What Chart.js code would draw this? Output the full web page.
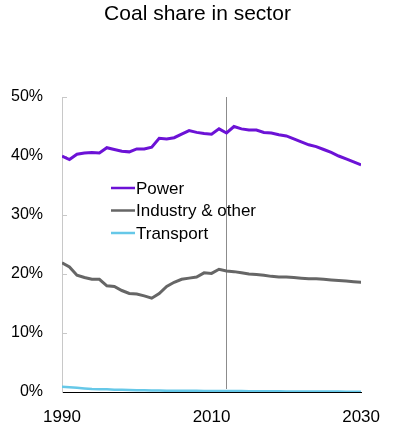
<!DOCTYPE html>
<html>
<head>
<meta charset="utf-8">
<script src="https://cdn.jsdelivr.net/npm/chart.js@4/dist/chart.umd.min.js"></script>
<style>
html,body{margin:0;padding:0;background:#fff;}
#c{display:block;}
</style>
</head>
<body>
<canvas id="c" width="395" height="434"></canvas>
<script>
const years = [];
for (let y = 1990; y <= 2030; y++) years.push(y);
const power = [40.0,39.4,40.3,40.5,40.6,40.5,41.4,41.1,40.8,40.7,41.2,41.2,
  41.5,43.0,42.9,43.1,43.7,44.3,44.0,43.8,43.7,44.6,43.9,
  45.0,44.6,44.4,44.4,44.0,43.9,43.6,43.4,42.9,42.4,41.9,41.6,41.1,40.6,40.0,39.5,39.0,38.5];
const industry = [21.9,21.2,19.8,19.4,19.1,19.1,18.0,17.9,17.2,16.7,16.6,16.3,
  15.9,16.7,17.9,18.6,19.1,19.3,19.5,20.2,20.1,20.8,20.5,
  20.4,20.2,20.0,19.9,19.8,19.6,19.5,19.5,19.4,19.3,19.2,19.2,19.1,19.0,18.9,18.8,18.7,18.6];
const transport = [0.9,0.8,0.7,0.6,0.5,0.45,0.45,0.4,0.4,0.35,0.3,0.3,
  0.25,0.25,0.2,0.2,0.2,0.2,0.2,0.15,0.15,0.15,0.15,
  0.15,0.15,0.14,0.13,0.12,0.12,0.11,0.1,0.1,0.09,0.09,0.08,0.08,0.07,0.07,0.06,0.06,0.05];
const seriesLabels = ['Power', 'Industry & other', 'Transport'];
const titleText = 'Coal share in sector';
const xTicks = [1990, 2010, 2030];
const yTicks = [0, 10, 20, 30, 40, 50];
const markerYear = 2012;

const FONT = '"Liberation Sans", Arial, Helvetica, sans-serif';
const toXY = arr => arr.map((v, i) => ({x: years[i], y: v}));

const overlay = {
  id: 'overlay',
  beforeDatasetsDraw(chart) {
    const {ctx, chartArea, scales} = chart;
    ctx.save();
    // title centred on the full canvas
    ctx.font = '21px ' + FONT;
    ctx.fillStyle = '#000';
    ctx.textAlign = 'center';
    ctx.textBaseline = 'middle';
    ctx.fillText(titleText, chart.width / 2, 14);
    // inner y tick marks
    ctx.strokeStyle = '#c8c8c8';
    ctx.lineWidth = 1;
    yTicks.forEach(t => {
      if (t === 0) return;
      const y = Math.round(scales.y.getPixelForValue(t)) + 0.5;
      ctx.beginPath();
      ctx.moveTo(chartArea.left, y);
      ctx.lineTo(chartArea.left + 5, y);
      ctx.stroke();
    });
    // vertical marker
    const mx = Math.round(scales.x.getPixelForValue(markerYear)) + 0.5;
    ctx.strokeStyle = '#8c8c8c';
    ctx.beginPath();
    ctx.moveTo(mx, chartArea.top);
    ctx.lineTo(mx, chartArea.bottom - 3);
    ctx.stroke();
    ctx.restore();
  },
  afterDatasetsDraw(chart) {
    const {ctx} = chart;
    ctx.save();
    // legend
    const lx = 111, lw = 24, ly0 = 188, dy = 22.5;
    ctx.font = '17px ' + FONT;
    ctx.textBaseline = 'middle';
    ctx.textAlign = 'left';
    chart.data.datasets.forEach((ds, i) => {
      const y = ly0 + i * dy;
      ctx.strokeStyle = ds.borderColor;
      ctx.lineWidth = 2.5;
      ctx.beginPath();
      ctx.moveTo(lx, y);
      ctx.lineTo(lx + lw, y);
      ctx.stroke();
      ctx.fillStyle = '#000';
      ctx.fillText(ds.label, lx + lw + 1, y + 1);
    });
    ctx.restore();
  }
};

new Chart(document.getElementById('c'), {
  type: 'line',
  data: {
    datasets: [
      {label: seriesLabels[0], data: toXY(power), borderColor: 'rgb(108,18,214)', borderWidth: 3},
      {label: seriesLabels[1], data: toXY(industry), borderColor: '#666666', borderWidth: 3},
      {label: seriesLabels[2], data: toXY(transport), borderColor: '#66c8e8', borderWidth: 2.5}
    ]
  },
  options: {
    responsive: false,
    animation: false,
    devicePixelRatio: 1,
    elements: {point: {radius: 0}, line: {tension: 0}},
    layout: {padding: {left: 0, right: 33, top: 97, bottom: 0}},
    plugins: {
      legend: {display: false},
      tooltip: {enabled: false},
      title: {display: false}
    },
    scales: {
      x: {
        type: 'linear',
        min: 1990,
        max: 2030,
        afterBuildTicks: s => { s.ticks = xTicks.map(v => ({value: v})); },
        afterFit: s => { s.height = 42; },
        grid: {display: false, drawTicks: false},
        border: {display: true, color: '#000', width: 1},
        ticks: {
          color: '#000',
          font: {family: FONT, size: 17},
          padding: 15,
          maxRotation: 0,
          callback: v => String(v)
        }
      },
      y: {
        min: 0,
        max: 50,
        afterBuildTicks: s => { s.ticks = yTicks.map(v => ({value: v})); },
        afterFit: s => { s.width = 62; },
        grid: {display: false, drawTicks: false},
        border: {display: true, color: '#c8c8c8', width: 1},
        ticks: {
          color: '#000',
          font: {family: FONT, size: 16},
          padding: 19,
          callback: v => v + '%'
        }
      }
    }
  },
  plugins: [overlay]
});
</script>
</body>
</html>
